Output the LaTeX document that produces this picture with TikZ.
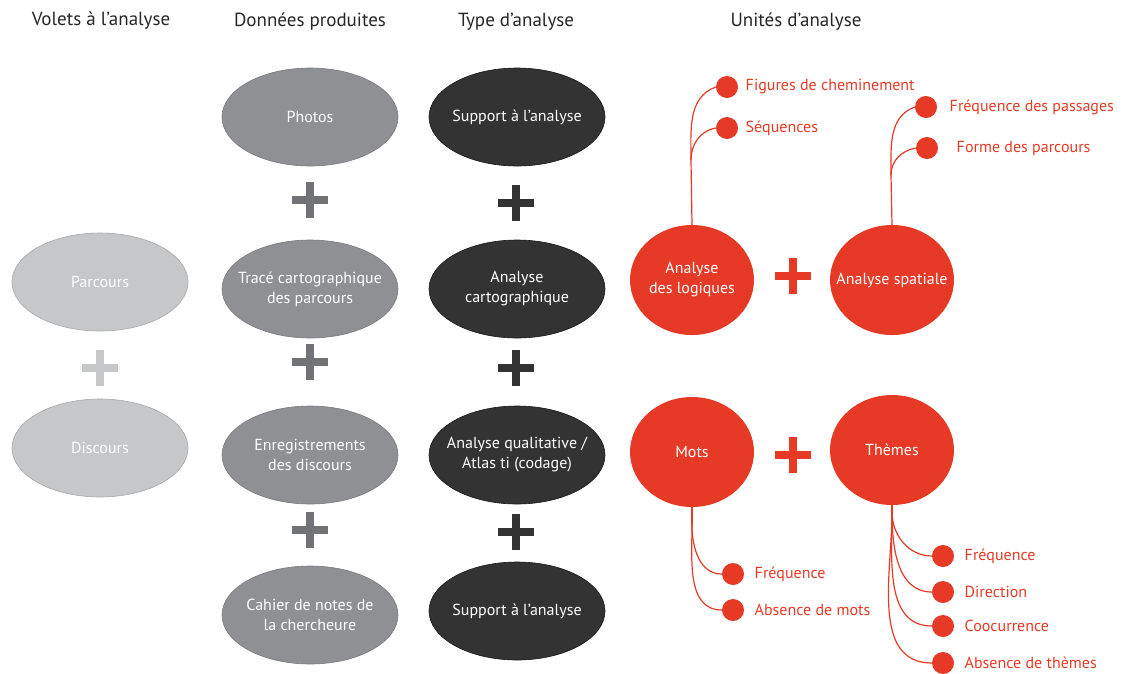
\documentclass[tikz,border=0pt]{standalone}
\usepackage{fontspec}
\setmainfont{PT Sans}
\usepackage{tikz}
\usetikzlibrary{arrows,shapes,positioning}

\definecolor{grisclair}{HTML}{C5C7C9}
\definecolor{grismoyen}{HTML}{8F9094}
\definecolor{grisfonce}{HTML}{333333}
\definecolor{rouge}{HTML}{E63A26}

\tikzset{
  titre/.style={font=\fontsize{19}{22}\selectfont, text=black!85},
  txt/.style={text=white, align=center, font=\fontsize{16}{20}\selectfont},
  bulle/.style={ellipse, inner sep=0pt, minimum width=176, minimum height=98},
  volet/.style={bulle, fill=grisclair, draw=grisclair!85!black, line width=0.6},
  donnee/.style={bulle, fill=grismoyen, draw=grismoyen!85!black, line width=0.6},
  analyse/.style={bulle, fill=grisfonce, draw=black!90, line width=0.6},
  unite/.style={bulle, fill=rouge, minimum width=124, minimum height=110},
  point/.style={circle, fill=rouge, inner sep=0pt, minimum size=22},
  etiq/.style={anchor=west, text=rouge, font=\fontsize{16}{19}\selectfont},
  branche/.style={draw=rouge, line width=1.2},
  croix/.style={line width=8.5}
}

\newcommand{\plusgraph}[3]{%
  \draw[croix, #3] (#1-18,#2) -- (#1+18,#2) (#1,#2-18) -- (#1,#2+18);}

\begin{document}
\begin{tikzpicture}[x=1pt, y=-1pt]
  \useasboundingbox (0,0) rectangle (1125,673);

  % titres des colonnes
  \node[titre] (t1) at (101,21) {Volets à l'analyse};
  \node[titre] (t2) at (310,22) {Données produites};
  \node[titre] (t3) at (516,22) {Type d'analyse};
  \node[titre] (t4) at (796,22) {Unités d'analyse};

  % volets
  \node[volet, label={[txt]center:Parcours}] (parcours) at (100,282) {};
  \node[volet, label={[txt]center:Discours}] (discours) at (100,448) {};
  \plusgraph{100}{368}{grisclair}

  % donnees produites
  \node[donnee, label={[txt]center:Photos}] (photos) at (310,117) {};
  \node[donnee, label={[txt]center:{Tracé cartographique\\des parcours}}] (trace) at (310,289) {};
  \node[donnee, label={[txt]center:{Enregistrements\\des discours}}] (enreg) at (310,455) {};
  \node[donnee, label={[txt]center:{Cahier de notes de\\la chercheure}}] (cahier) at (310,615) {};
  \plusgraph{310}{200}{grismoyen!80!black}
  \plusgraph{310}{362}{grismoyen!80!black}
  \plusgraph{310}{530}{grismoyen!80!black}

  % types d'analyse
  \node[analyse, label={[txt]center:Support à l'analyse}] (support1) at (517,117) {};
  \node[analyse, label={[txt]center:{Analyse\\cartographique}}] (carto) at (517,289) {};
  \node[analyse, label={[txt]center:{Analyse qualitative /\\Atlas ti (codage)}}] (quali) at (517,455) {};
  \node[analyse, label={[txt]center:Support à l'analyse}] (support2) at (517,611) {};
  \plusgraph{516}{203}{grisfonce}
  \plusgraph{516}{368}{grisfonce}
  \plusgraph{516}{532}{grisfonce}

  % unites d'analyse
  \node[unite, label={[txt]center:{Analyse\\des logiques}}] (logiques) at (692,280) {};
  \node[unite, label={[txt]center:Analyse spatiale}] (spatiale) at (892,280) {};
  \node[unite, label={[txt]center:Mots}] (mots) at (692,452) {};
  \node[unite, label={[txt]center:Thèmes}] (themes) at (892,450) {};
  \plusgraph{793}{276}{rouge}
  \plusgraph{793}{455}{rouge}

  % points et etiquettes
  \node[point] (fig) at (727,87) {};
  \node[etiq] at (fig.east) [xshift=4] {Figures de cheminement};
  \node[point] (seq) at (727,128) {};
  \node[etiq] at (seq.east) [xshift=4] {Séquences};
  \node[point] (passages) at (926,107) {};
  \node[etiq] at (passages.east) [xshift=9] {Fréquence des passages};
  \node[point] (forme) at (927,148) {};
  \node[etiq] at (forme.east) [xshift=15] {Forme des parcours};
  \node[point] (mfreq) at (733,574) {};
  \node[etiq] at (mfreq.east) [xshift=7] {Fréquence};
  \node[point] (mabs) at (733,610) {};
  \node[etiq] at (mabs.east) [xshift=7] {Absence de mots};
  \node[point] (tfreq) at (943,556) {};
  \node[etiq] at (tfreq.east) [xshift=7] {Fréquence};
  \node[point] (tdir) at (943,592) {};
  \node[etiq] at (tdir.east) [xshift=7] {Direction};
  \node[point] (tcooc) at (943,626) {};
  \node[etiq] at (tcooc.east) [xshift=7] {Coocurrence};
  \node[point] (tabs) at (943,663) {};
  \node[etiq] at (tabs.east) [xshift=7] {Absence de thèmes};

  % branches
  \coordinate (jl) at (691,160);
  \coordinate (js) at (891,175);
  \coordinate (jm) at (692,525);
  \coordinate (jt) at (892,512);
  \draw[branche] (logiques.north) -- (jl);
  \draw[branche] (jl) to[out=90, in=200] (fig.west);
  \draw[branche] (jl) to[out=90, in=190] (seq.west);
  \draw[branche] (spatiale.north) -- (js);
  \draw[branche] (js) to[out=90, in=200] (passages.west);
  \draw[branche] (js) to[out=90, in=190] (forme.west);
  \draw[branche] (mots.south) -- (jm);
  \draw[branche] (jm) to[out=-90, in=180] (mfreq.west);
  \draw[branche] (jm) to[out=-90, in=180] (mabs.west);
  \draw[branche] (themes.south) -- (jt);
  \draw[branche] (jt) to[out=-90, in=180] (tfreq.west);
  \draw[branche] (jt) to[out=-90, in=180] (tdir.west);
  \draw[branche] (jt) to[out=-90, in=180] (tcooc.west);
  \draw[branche] (jt) to[out=-90, in=180] (tabs.west);
\end{tikzpicture}
\end{document}
